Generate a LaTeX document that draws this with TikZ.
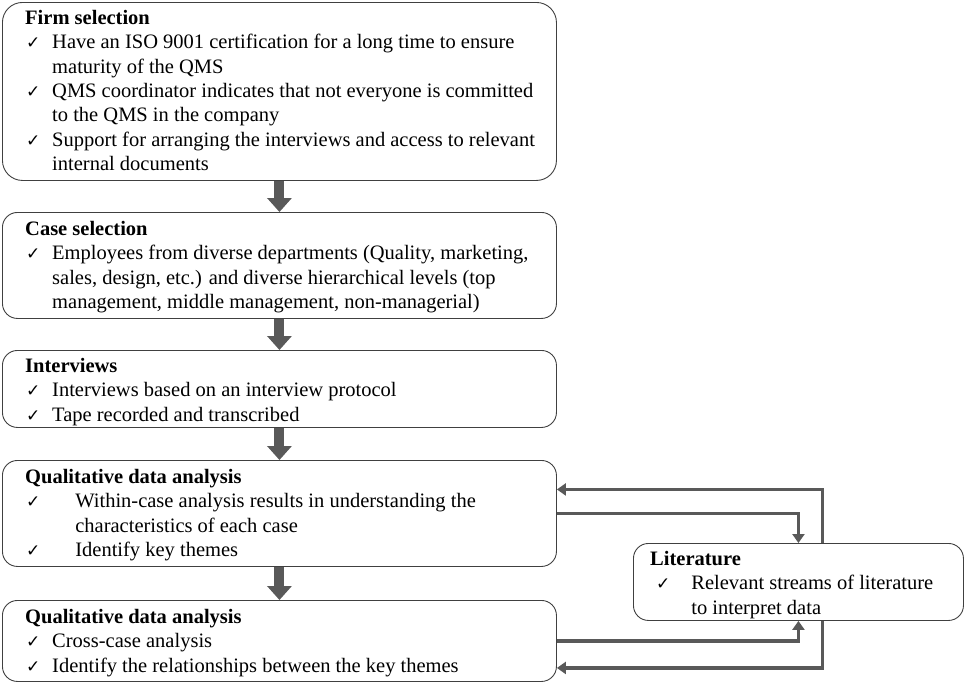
\documentclass[tikz,border=0pt]{standalone}
\usepackage{fontspec}
\setmainfont{Liberation Serif}
\newfontfamily\symfont{DejaVu Sans}
\usetikzlibrary{arrows.meta,calc}
\definecolor{arrowgray}{HTML}{595959}
\definecolor{boxline}{HTML}{404040}
\newcommand{\chk}[1][27pt]{\makebox[#1][l]{\hspace{1pt}{\symfont\fontsize{17}{17}\selectfont ✓}}}
\newcommand{\ind}[1][27pt]{\hspace*{#1}}
\newcommand{\fst}{\rule{0pt}{17pt}}
\begin{document}
\begin{tikzpicture}[x=1pt,y=-1pt,
  boxnode/.style={draw=boxline, line width=0.9pt, rounded corners=15pt, anchor=north west, inner sep=0pt},
  txt/.style={anchor=north west, inner sep=0pt, align=left, font=\fontsize{20.5}{24.4}\selectfont},
  blockarrow/.style={draw=arrowgray, line width=10pt, -{Triangle[width=24pt,length=14pt]}},
  conn/.style={draw=arrowgray, line width=3.5pt, -{Triangle[width=12pt,length=9pt]}}]
\useasboundingbox (0,0) rectangle (964,683);
% boxes
\node[boxnode, rounded corners=20pt, minimum width=554pt, minimum height=178pt] (b1) at (2,2) {};
\node[boxnode, minimum width=554pt, minimum height=106pt] (b2) at (2,212) {};
\node[boxnode, minimum width=554pt, minimum height=77pt] (b3) at (2,350) {};
\node[boxnode, minimum width=554pt, minimum height=106pt] (b4) at (2,460) {};
\node[boxnode, minimum width=554pt, minimum height=81pt] (b5) at (2,600) {};
\node[boxnode, minimum width=330pt, minimum height=77pt] (lit) at (633,543) {};
% texts
\node[txt] (t1) at (25,7) {\fst\textbf{Firm selection}\\
\chk Have an ISO 9001 certification for a long time to ensure\\
\ind maturity of the QMS\\
\chk QMS coordinator indicates that not everyone is committed\\
\ind to the QMS in the company\\
\chk Support for arranging  the interviews and access to relevant\\
\ind internal documents};
\node[txt] (t2) at (25,218) {\fst\textbf{Case selection}\\
\chk Employees from diverse departments (Quality, marketing,\\
\ind sales, design, etc.) and diverse hierarchical levels (top\\
\ind management,  middle management,  non-managerial)};
\node[txt] (t3) at (25,355) {\fst\textbf{Interviews}\\
\chk Interviews  based on an interview protocol\\
\chk Tape recorded and transcribed};
\node[txt] (t4) at (25,466) {\fst\textbf{Qualitative data analysis}\\
\chk[45pt] Within-case analysis results in understanding  the\\
\ind[45pt] characteristics of each case\\
\chk[45pt] Identify key themes};
\node[txt] (t5) at (25,606) {\fst\textbf{Qualitative data analysis}\\
\chk Cross-case analysis\\
\chk Identify the relationships between the key themes};
\node[txt] (tl) at (650,548) {\fst\textbf{Literature}\\
\hspace*{5pt}\chk[31pt] Relevant streams of literature\\
\ind[36pt] to interpret data};
% block arrows
\draw[blockarrow] (b1.south) -- (b2.north);
\draw[blockarrow] (b2.south) -- (b3.north);
\draw[blockarrow] (b3.south) -- (b4.north);
\draw[blockarrow] (b4.south) -- (b5.north);
% feedback connectors
\draw[conn] ($(lit.north)+(24,0)$) |- ($(b4.east)+(0,-24)$);
\draw[conn] (b4.east) -| (lit.north);
\draw[conn] (b5.east) -| (lit.south);
\draw[conn] ($(lit.south)+(24,0)$) |- ($(b5.east)+(0,27)$);
\end{tikzpicture}
\end{document}
